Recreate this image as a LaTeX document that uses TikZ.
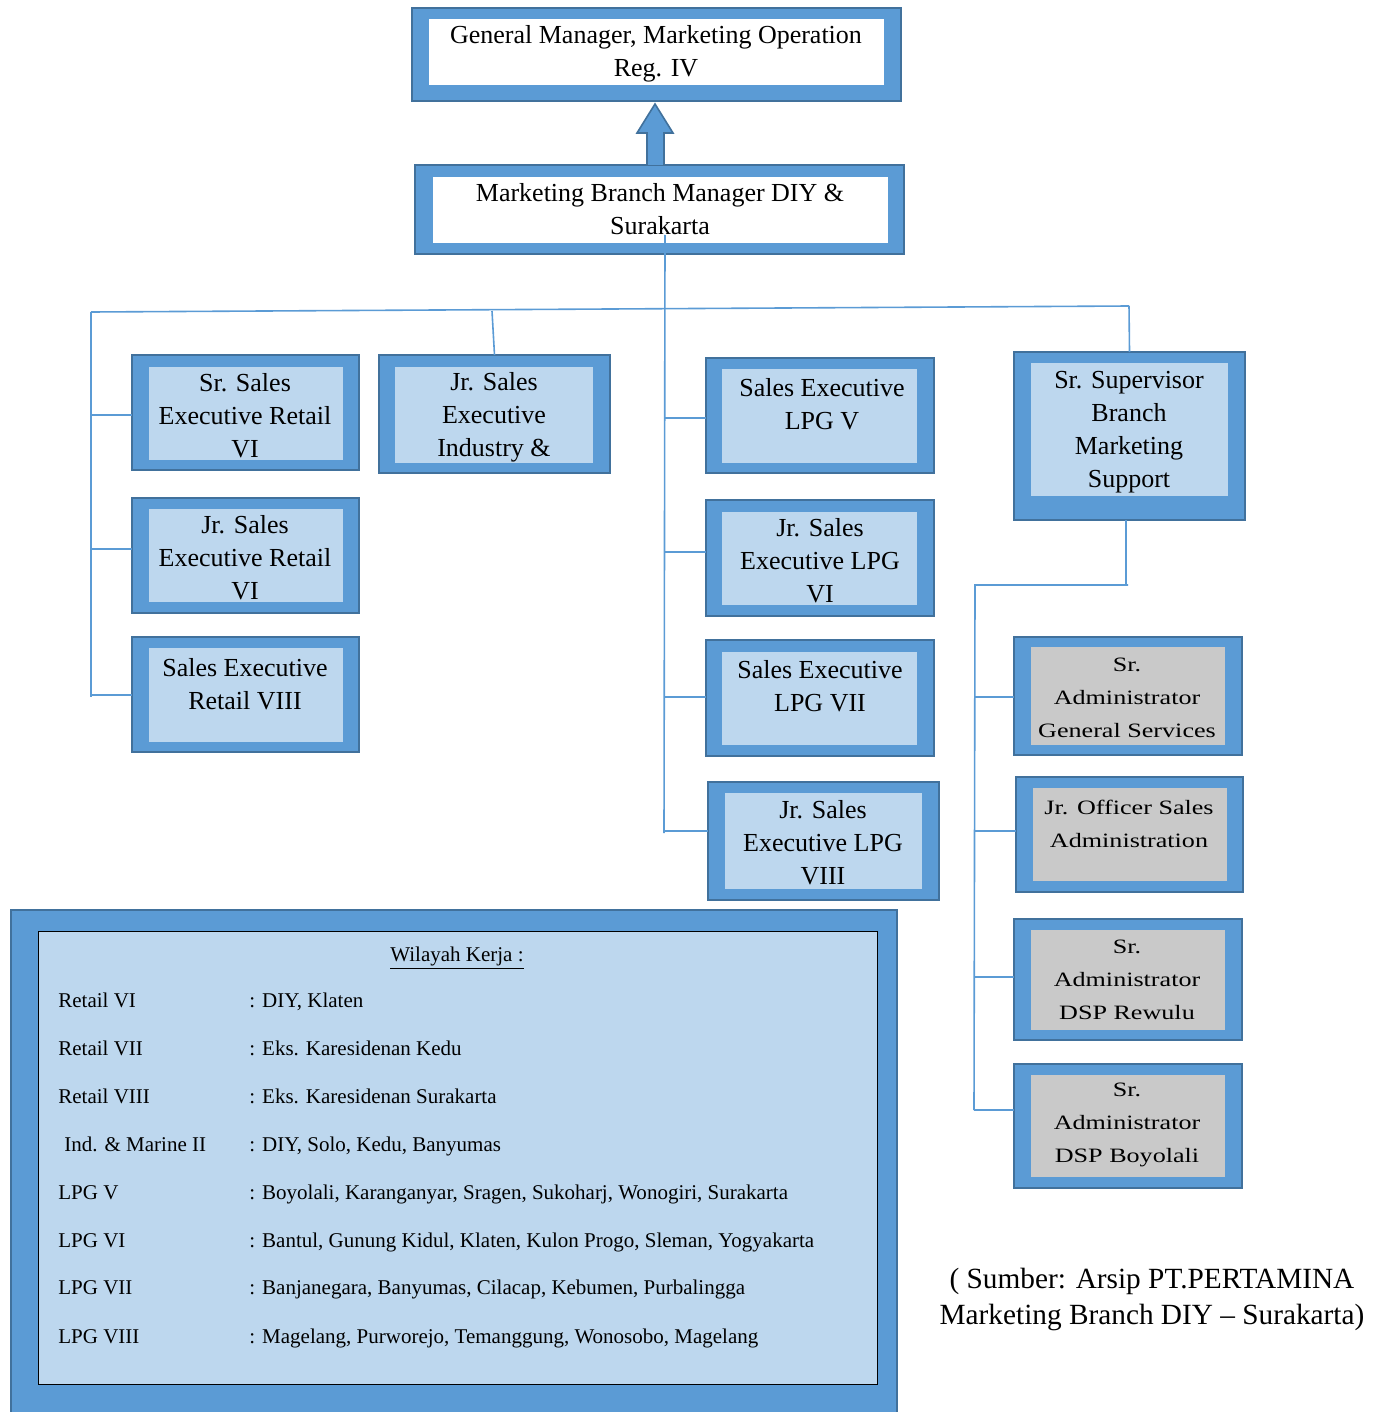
\documentclass[tikz,border=0pt]{standalone}
\usepackage{fontspec}
\setmainfont{Liberation Serif}
\newfontfamily\wideserif[FakeStretch=1.28]{Liberation Serif}
\usetikzlibrary{calc}
\definecolor{bmid}{HTML}{5B9BD5}
\definecolor{bdark}{HTML}{41719C}
\definecolor{blight}{HTML}{BDD7EE}
\definecolor{gbox}{HTML}{C9C9C9}
\newcommand\mkbox[5]{%
  \pgfmathsetmacro\mybw{(#4-#2)*0.5}%
  \pgfmathsetmacro\mybh{(#5-#3)*0.5}%
  \node[obox,minimum width=\mybw pt,minimum height=\mybh pt] (#1) at ({(#2+#4)/2},{(#3+#5)/2}) {};}
\newcommand\mkin[5]{\fill[#1] (#2,#3) rectangle (#4,#5);}
\tikzset{
  obox/.style={rectangle,draw=bdark,fill=bmid,line width=1pt,inner sep=0pt,outer sep=0pt},
  btxt/.style={align=center,font=\fontsize{13}{16.5}\selectfont,inner sep=0pt},
  gtxt/.style={align=center,font=\wideserif\fontsize{10.2}{16.5}\selectfont,inner sep=0pt},
  conn/.style={draw=bmid,line width=0.8pt},
  ltxt/.style={anchor=base west,font=\fontsize{10.5}{12}\selectfont,inner sep=0pt},
  blockarrow/.style={draw=bdark,fill=bmid,line width=0.8pt,line join=miter}
}
\begin{document}
\begin{tikzpicture}[x=0.5pt,y=-0.5pt]
\clip (0,0) rectangle (1384,1412);
% top boxes
\mkbox{gm}{412}{8}{901}{101}
\mkin{white}{429}{19}{884}{85}
\node[btxt] (gm-t) at (656,54) {General Manager, Marketing Operation\\Reg. IV};
\mkbox{mbm}{415}{165}{904}{254}
\mkin{white}{433}{177}{888}{243}
\node[btxt] (mbm-t) at (660,209) {Marketing Branch Manager DIY \&\\Surakarta};
% block arrow
\draw[blockarrow] (mbm.north -| 647,0) -- (647,133) -- (637,133) -- ($(gm.south -| 655,0)+(0,3)$) -- (673,133) -- (664,133) -- (mbm.north -| 664,0);
% left column
\mkbox{s1}{132}{355}{359}{470}
\mkin{blight}{149}{367}{343}{460}
\node[btxt] (s1-t) at (245,416) {Sr. Sales\\Executive Retail\\VI};
\mkbox{ind}{379}{355}{610}{473}
\mkin{blight}{395}{367}{593}{463}
\node[btxt] (ind-t) at (494,417) {Jr. Sales\\Executive\\Industry \&};
\mkbox{s2}{132}{498}{359}{613}
\mkin{blight}{149}{509}{343}{602}
\node[btxt] (s2-t) at (245,558) {Jr. Sales\\Executive Retail\\VI};
\mkbox{s3}{132}{637}{359}{752}
\mkin{blight}{149}{648}{343}{742}
\node[btxt] (s3-t) at (245,684) {Sales Executive\\Retail VIII};
% middle column
\mkbox{l5}{706}{358}{934}{473}
\mkin{blight}{722}{369}{917}{463}
\node[btxt] (l5-t) at (822,404) {Sales Executive\\LPG V};
\mkbox{l6}{706}{500}{934}{616}
\mkin{blight}{722}{512}{917}{605}
\node[btxt] (l6-t) at (820,561) {Jr. Sales\\Executive LPG\\VI};
\mkbox{l7}{706}{640}{934}{756}
\mkin{blight}{722}{652}{917}{745}
\node[btxt] (l7-t) at (820,686) {Sales Executive\\LPG VII};
\mkbox{l8}{708}{782}{939}{900}
\mkin{blight}{725}{793}{922}{889}
\node[btxt] (l8-t) at (823,843) {Jr. Sales\\Executive LPG\\VIII};
% right column
\mkbox{sup}{1014}{352}{1245}{520}
\mkin{blight}{1031}{363}{1228}{496}
\node[btxt] (sup-t) at (1129,432) {Sr. Supervisor\\Branch\\Marketing\\Support};
\mkbox{g1}{1014}{637}{1242}{755}
\mkin{gbox}{1031}{647}{1225}{745}
\node[gtxt] (g1-t) at (1127,698) {Sr.\\Administrator\\General Services};
\mkbox{g2}{1016}{777}{1243}{892}
\mkin{gbox}{1033}{788}{1227}{881}
\node[gtxt] (g2-t) at (1129,824) {Jr. Officer Sales\\Administration};
\mkbox{g3}{1014}{919}{1242}{1040}
\mkin{gbox}{1031}{930}{1225}{1030}
\node[gtxt] (g3-t) at (1127,980) {Sr.\\Administrator\\DSP Rewulu};
\mkbox{g4}{1014}{1064}{1242}{1188}
\mkin{gbox}{1031}{1075}{1225}{1177}
\node[gtxt] (g4-t) at (1127,1125) {Sr.\\Administrator\\DSP Boyolali};
% connectors
\coordinate (mtop) at (665,235);
\coordinate (mbot) at (664,833);
\coordinate (hl) at (91,312);
\coordinate (hr) at (1129,306);
\coordinate (lbot) at (91,697);
\draw[conn] (mtop) -- (mbot);
\draw[conn] (hl) -- (hr);
\draw[conn] (hl) -- (lbot);
\draw[conn] (91,415) -- (s1.west |- 0,415);
\draw[conn] (91,549) -- (s2.west |- 0,549);
\draw[conn] (91,695) -- (s3.west |- 0,695);
\draw[conn] (492,311) -- (ind.north);
\draw[conn] (hr) -- (sup.north);
\draw[conn] (664,418) -- (l5.west |- 0,418);
\draw[conn] (664,552) -- (l6.west |- 0,552);
\draw[conn] (664,697) -- (l7.west |- 0,697);
\draw[conn] (664,831) -- (l8.west |- 0,831);
\coordinate (sj) at (1126,585);
\coordinate (rtop) at (975,585);
\coordinate (rbot) at (974,1110);
\draw[conn] (sup.south -| sj) -- (sj);
\draw[conn] (1128,585) -- (rtop) -- (rbot);
\draw[conn] (975,697) -- (g1.west |- 0,697);
\draw[conn] (975,831) -- (g2.west |- 0,831);
\draw[conn] (975,977) -- (g3.west |- 0,977);
\draw[conn] (974,1110) -- (g4.west |- 0,1110);
% legend
\mkbox{leg}{11}{910}{897}{1440}
\draw[fill=blight,draw=black,line width=0.4pt] (38,931) rectangle (877,1384);
\node[anchor=base,font=\fontsize{10.5}{12}\selectfont,inner sep=0pt] (legt) at (457,961) {\underline{Wilayah Kerja :}};
\node[ltxt] (r1) at (58,1007) {Retail VI};
\node[ltxt] (r1v) at (249,1007) {: DIY, Klaten};
\node[ltxt] (r2) at (58,1055) {Retail VII};
\node[ltxt] (r2v) at (249,1055) {: Eks. Karesidenan Kedu};
\node[ltxt] (r3) at (58,1103) {Retail VIII};
\node[ltxt] (r3v) at (249,1103) {: Eks. Karesidenan Surakarta};
\node[ltxt] (r4) at (64,1151) {Ind. \& Marine II};
\node[ltxt] (r4v) at (249,1151) {: DIY, Solo, Kedu, Banyumas};
\node[ltxt] (r5) at (58,1199) {LPG V};
\node[ltxt] (r5v) at (249,1199) {: Boyolali, Karanganyar, Sragen, Sukoharj, Wonogiri, Surakarta};
\node[ltxt] (r6) at (58,1247) {LPG VI};
\node[ltxt] (r6v) at (249,1247) {: Bantul, Gunung Kidul, Klaten, Kulon Progo, Sleman, Yogyakarta};
\node[ltxt] (r7) at (58,1294) {LPG VII};
\node[ltxt] (r7v) at (249,1294) {: Banjanegara, Banyumas, Cilacap, Kebumen, Purbalingga};
\node[ltxt] (r8) at (58,1343) {LPG VIII};
\node[ltxt] (r8v) at (249,1343) {: Magelang, Purworejo, Temanggung, Wonosobo, Magelang};
% source
\node[align=center,font=\fontsize{14.65}{18}\selectfont,inner sep=0pt] (src) at (1152,1299) {( Sumber: Arsip PT.PERTAMINA\\Marketing Branch DIY -- Surakarta)};
\end{tikzpicture}
\end{document}
